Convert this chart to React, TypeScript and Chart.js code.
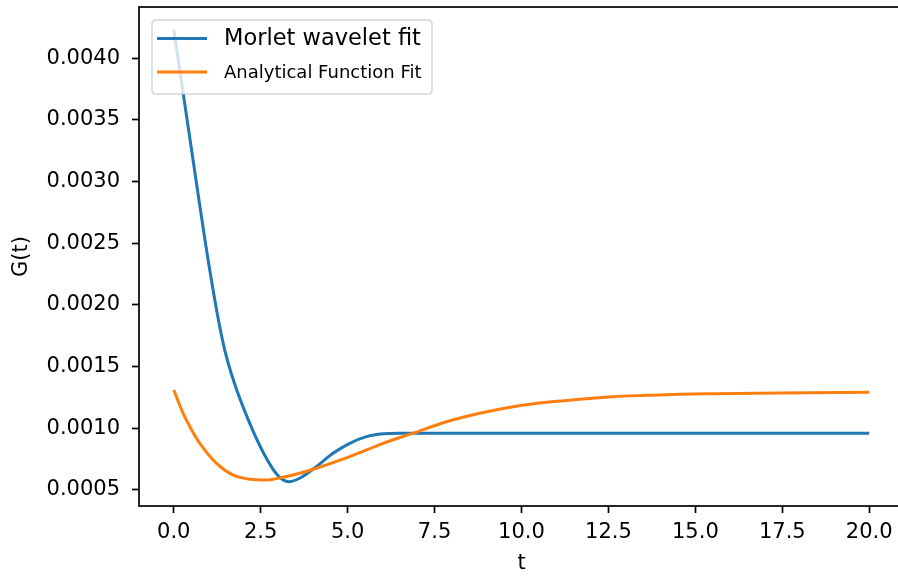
import React, { useEffect, useRef } from "react";
import { Chart, registerables } from "chart.js";

Chart.register(...registerables);

const morletT = [0, 0.5, 0.9, 1.27, 1.47, 1.75, 2.14, 2.6, 3.0, 3.3, 3.62, 4.1, 4.58, 5.06, 5.54, 6.02, 6.5, 8, 10, 12.5, 15, 17.5, 20];
const morletG = [0.00423, 0.00328, 0.00252, 0.0019, 0.00163, 0.00136, 0.00107, 0.00079, 0.000615, 0.000567, 0.000595, 0.000689, 0.000797, 0.000878, 0.000932, 0.000955, 0.00096, 0.00096, 0.00096, 0.00096, 0.00096, 0.00096, 0.00096];

const analyticT = [0, 0.27, 0.51, 0.75, 1.23, 1.7, 2.19, 2.67, 3.14, 3.62, 4.1, 5.06, 6.02, 6.88, 7.84, 8.8, 9.76, 10.72, 11.68, 12.63, 13.6, 14.55, 15.51, 17.43, 20];
const analyticG = [0.00131, 0.00112, 0.000988, 0.000878, 0.000716, 0.000622, 0.000587, 0.000581, 0.000603, 0.000635, 0.000676, 0.00077, 0.000878, 0.00096, 0.001053, 0.001122, 0.001175, 0.001211, 0.001235, 0.001256, 0.001267, 0.001276, 0.00128, 0.001286, 0.001292];

const xTicks = [0, 2.5, 5, 7.5, 10, 12.5, 15, 17.5, 20];
const yTicks = [0.0005, 0.001, 0.0015, 0.002, 0.0025, 0.003, 0.0035, 0.004];

const seriesLabels = ["Morlet wavelet fit", "Analytical Function Fit"];
const seriesColors = ["#1f77b4", "#ff7f0e"];

const FONT = "'DejaVu Sans', sans-serif";

const framePlugin = {
  id: "frameAndLegend",
  afterDatasetsDraw(chart: any) {
    const ctx = chart.ctx;
    const a = chart.chartArea;
    ctx.save();
    // spines
    ctx.strokeStyle = "#000";
    ctx.lineWidth = 1.7;
    ctx.strokeRect(a.left, a.top, a.right - a.left, a.bottom - a.top);

    // legend
    const bx = a.left + 13;
    const by = a.top + 13;
    const bw = 280;
    const bh = 74;
    const r = 4;
    ctx.beginPath();
    ctx.moveTo(bx + r, by);
    ctx.lineTo(bx + bw - r, by);
    ctx.quadraticCurveTo(bx + bw, by, bx + bw, by + r);
    ctx.lineTo(bx + bw, by + bh - r);
    ctx.quadraticCurveTo(bx + bw, by + bh, bx + bw - r, by + bh);
    ctx.lineTo(bx + r, by + bh);
    ctx.quadraticCurveTo(bx, by + bh, bx, by + bh - r);
    ctx.lineTo(bx, by + r);
    ctx.quadraticCurveTo(bx, by, bx + r, by);
    ctx.closePath();
    ctx.fillStyle = "rgba(255,255,255,0.8)";
    ctx.fill();
    ctx.strokeStyle = "rgba(204,204,204,0.8)";
    ctx.lineWidth = 1.5;
    ctx.stroke();

    const rows = [
      { y: by + 18.5, size: 22.5 },
      { y: by + 52, size: 18 },
    ];
    chart.data.datasets.forEach((ds: any, i: number) => {
      const row = rows[i];
      ctx.strokeStyle = ds.borderColor;
      ctx.lineWidth = 3;
      ctx.lineCap = "butt";
      ctx.beginPath();
      ctx.moveTo(bx + 5, row.y);
      ctx.lineTo(bx + 55, row.y);
      ctx.stroke();
      ctx.fillStyle = "#000";
      ctx.font = `${row.size}px ${FONT}`;
      ctx.textBaseline = "middle";
      ctx.textAlign = "left";
      ctx.fillText(ds.label, bx + 72, row.y + 1);
    });
    ctx.restore();
  },
};

export default function App() {
  const ref = useRef<HTMLCanvasElement | null>(null);

  useEffect(() => {
    if (!ref.current) return;
    const chart = new Chart(ref.current, {
      type: "scatter",
      data: {
        datasets: [
          {
            label: seriesLabels[0],
            data: morletT.map((t, i) => ({ x: t, y: morletG[i] })),
            borderColor: seriesColors[0],
            backgroundColor: seriesColors[0],
            showLine: true,
            pointRadius: 0,
            borderWidth: 3,
            cubicInterpolationMode: "monotone",
            order: 2,
          },
          {
            label: seriesLabels[1],
            data: analyticT.map((t, i) => ({ x: t, y: analyticG[i] })),
            borderColor: seriesColors[1],
            backgroundColor: seriesColors[1],
            showLine: true,
            pointRadius: 0,
            borderWidth: 3,
            cubicInterpolationMode: "monotone",
            order: 1,
          },
        ],
      },
      options: {
        animation: false,
        responsive: false,
        devicePixelRatio: 1,
        layout: { padding: { left: 0, top: 7, right: 6, bottom: 0 } },
        plugins: {
          legend: { display: false },
          tooltip: { enabled: false },
        },
        scales: {
          x: {
            type: "linear",
            min: -1,
            max: 21,
            afterBuildTicks: (s: any) => {
              s.ticks = xTicks.map((v) => ({ value: v }));
            },
            afterFit: (s: any) => {
              s.height = 70;
              s.paddingLeft = 0;
              s.paddingRight = 0;
              s.paddingTop = 0;
              s.paddingBottom = 0;
            },
            ticks: {
              autoSkip: false,
              maxRotation: 0,
              padding: 7,
              color: "#000",
              font: { family: FONT, size: 21 },
              callback: (v: any) => Number(v).toFixed(1),
            },
            grid: {
              display: true,
              drawOnChartArea: false,
              drawTicks: true,
              tickLength: 7,
              tickWidth: 1.7,
              tickColor: "#000",
            },
            border: { display: false },
            title: {
              display: true,
              text: "t",
              color: "#000",
              font: { family: FONT, size: 21 },
              padding: { top: 0, bottom: 0 },
            },
          },
          y: {
            type: "linear",
            min: 0.00037,
            max: 0.004414,
            afterBuildTicks: (s: any) => {
              s.ticks = yTicks.map((v) => ({ value: v }));
            },
            afterFit: (s: any) => {
              s.width = 139;
              s.paddingLeft = 0;
              s.paddingRight = 0;
              s.paddingTop = 0;
              s.paddingBottom = 0;
            },
            ticks: {
              autoSkip: false,
              padding: 12,
              color: "#000",
              font: { family: FONT, size: 21 },
              callback: (v: any) => Number(v).toFixed(4),
            },
            grid: {
              display: true,
              drawOnChartArea: false,
              drawTicks: true,
              tickLength: 7,
              tickWidth: 1.7,
              tickColor: "#000",
            },
            border: { display: false },
            title: {
              display: true,
              text: "G(t)",
              color: "#000",
              font: { family: FONT, size: 21 },
              padding: { top: 9, bottom: 0 },
            },
          },
        },
      },
      plugins: [framePlugin],
    } as any);
    return () => chart.destroy();
  }, []);

  return (
    <div
      style={{
        position: "absolute",
        left: 0,
        top: 0,
        width: 898,
        height: 576,
        overflow: "hidden",
        background: "#fff",
      }}
    >
      <canvas ref={ref} width={910} height={576} style={{ width: 910, height: 576, display: "block" }} />
    </div>
  );
}
